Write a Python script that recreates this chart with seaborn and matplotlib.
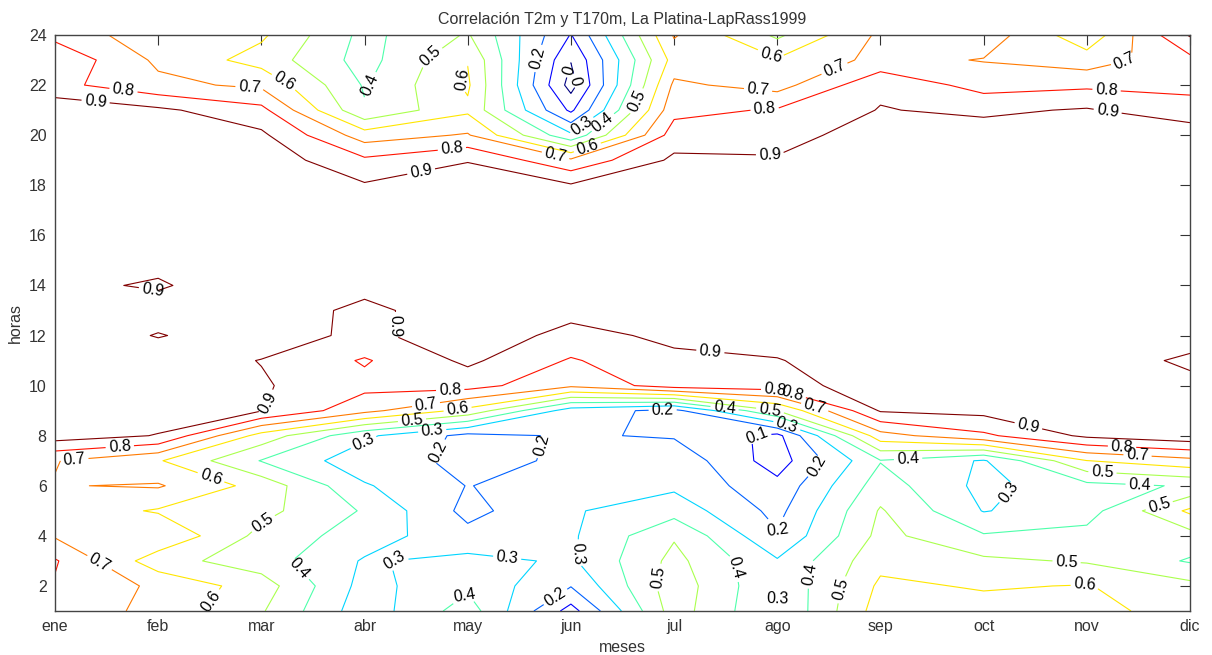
import numpy as np
import pandas as pd
import matplotlib
matplotlib.use("Agg")
import matplotlib.pyplot as plt
import seaborn as sns
from matplotlib.colors import Normalize

# ---- data ----
meses = ["ene", "feb", "mar", "abr", "may", "jun", "jul", "ago", "sep", "oct", "nov", "dic"]
horas = list(range(1, 25))

# correlation per month, hours 1..24
ene = [0.76, 0.79, 0.81, 0.69, 0.66, 0.695, 0.705, 0.95, 0.96, 0.96, 0.96, 0.96,
       0.95, 0.92, 0.94, 0.96, 0.96, 0.96, 0.96, 0.96, 0.97, 0.83, 0.88, 0.77]
feb = [0.673, 0.68, 0.54, 0.69, 0.59, 0.71, 0.61, 0.895, 0.95, 0.95, 0.95, 0.895,
       0.94, 0.89, 0.925, 0.95, 0.95, 0.95, 0.95, 0.95, 0.92, 0.725, 0.68, 0.635]
mar = [0.51, 0.55, 0.447, 0.47, 0.53, 0.563, 0.395, 0.56, 0.905, 0.91, 0.897, 0.95,
       0.97, 0.96, 0.95, 0.95, 0.95, 0.95, 0.96, 0.92, 0.83, 0.68, 0.56, 0.617]
abr = [0.24, 0.263, 0.29, 0.35, 0.39, 0.31, 0.24, 0.32, 0.73, 0.83, 0.79, 0.876,
       0.87, 0.937, 0.95, 0.95, 0.95, 0.91, 0.82, 0.65, 0.41, 0.39, 0.36, 0.37]
may = [0.45, 0.38, 0.33, 0.23, 0.17, 0.197, 0.18, 0.17, 0.57, 0.84, 0.92, 0.96,
       0.97, 0.96, 0.96, 0.96, 0.96, 0.95, 0.895, 0.71, 0.58, 0.615, 0.595, 0.51]
jun = [0.06, 0.205, 0.285, 0.285, 0.29, 0.25, 0.21, 0.21, 0.25, 0.72, 0.79, 0.87,
       0.93, 0.96, 0.96, 0.96, 0.96, 0.91, 0.72, 0.32, 0.08, -0.04, 0.005, 0.095]
jul = [0.55, 0.56, 0.53, 0.49, 0.36, 0.28, 0.27, 0.19, 0.17, 0.85, 0.88, 0.92,
       0.95, 0.96, 0.96, 0.96, 0.96, 0.93, 0.92, 0.85, 0.77, 0.72, 0.64, 0.71]
ago = [0.295, 0.305, 0.31, 0.21, 0.17, 0.13, 0.05, 0.07, 0.50, 0.86, 0.895, 0.94,
       0.96, 0.96, 0.96, 0.96, 0.96, 0.95, 0.91, 0.86, 0.81, 0.66, 0.61, 0.48]
sep = [0.65, 0.62, 0.57, 0.53, 0.51, 0.45, 0.395, 0.66, 0.91, 0.95, 0.96, 0.96,
       0.96, 0.96, 0.96, 0.96, 0.96, 0.96, 0.96, 0.95, 0.905, 0.88, 0.73, 0.72]
octu = [0.64, 0.59, 0.52, 0.41, 0.295, 0.27, 0.29, 0.78, 0.93, 0.96, 0.96, 0.96,
        0.96, 0.96, 0.96, 0.96, 0.96, 0.96, 0.96, 0.95, 0.88, 0.76, 0.695, 0.76]
nov = [0.63, 0.605, 0.49, 0.43, 0.36, 0.37, 0.598, 0.92, 0.96, 0.96, 0.96, 0.96,
       0.96, 0.96, 0.96, 0.96, 0.96, 0.96, 0.96, 0.96, 0.91, 0.78, 0.647, 0.53]
dic = [0.56, 0.53, 0.39, 0.46, 0.62, 0.41, 0.67, 0.97, 0.97, 0.93, 0.88, 0.95,
       0.96, 0.96, 0.96, 0.96, 0.96, 0.96, 0.96, 0.97, 0.83, 0.78, 0.77, 0.91]

niveles = [0.0, 0.1, 0.2, 0.3, 0.4, 0.5, 0.6, 0.7, 0.8, 0.9]
titulo = "Correlación T2m y T170m, La Platina-LapRass1999"

# approximate places of the inline contour labels (month index, hour)
etiquetas_x = [1.39, 1.66, 2.89, 3.21, 4.10, 4.65, 4.90, 4.56, 4.85, 5.73, 5.97, 6.07,
               6.12, 6.33, 6.67, 6.16, 5.84, 7.93, 7.88, 7.83, 7.96, 8.56, 11.37,
               11.19, 11.20, 1.94, 4.20, 7.35, 3.13, 1.63, 1.19, 2.50, 1.39, 2.50,
               3.03, 3.40, 3.97, 4.29, 4.83, 4.59, 4.90, 4.46, 4.66, 4.65, 5.78,
               5.38, 4.99, 5.87, 6.06, 6.89, 7.49, 6.89, 7.57, 8.00, 8.07, 7.81,
               7.98, 8.14, 7.93, 8.10, 8.36, 8.33, 8.39, 8.64, 9.27, 10.33, 10.42,
               11.34, 11.49, 11.15, 11.51, 11.70, 10.80, 10.98]
etiquetas_y = [21.2, 21.68, 22.2, 22.08, 21.9, 23.1, 22.3, 18.3, 19.3, 23.0, 22.6, 22.2,
               20.3, 20.4, 21.3, 19.5, 19.0, 19.2, 20.9, 22.5, 23.4, 22.6, 22.9,
               21.7, 20.9, 13.6, 12.4, 11.3, 9.2, 7.43, 6.95, 6.2, 2.64, 1.44,
               4.4, 2.8, 7.9, 3.0, 9.85, 9.4, 9.1, 8.6, 8.0, 7.5, 7.55,
               3.04, 1.52, 1.44, 3.3, 8.94, 9.14, 2.3, 2.7, 2.0, 3.95, 7.8,
               9.85, 9.6, 9.0, 8.5, 9.1, 7.0, 2.4, 1.84, 6.9, 5.43, 8.15,
               7.45, 7.1, 6.43, 5.83, 5.23, 2.72, 2.04]

# ---- build table ----
df = pd.DataFrame({"ene": ene, "feb": feb, "mar": mar, "abr": abr, "may": may,
                   "jun": jun, "jul": jul, "ago": ago, "sep": sep, "oct": octu,
                   "nov": nov, "dic": dic}, index=horas)[meses]

sns.set_style("white")
plt.rcParams["font.family"] = ["Liberation Sans", "DejaVu Sans"]

fig = plt.figure(figsize=(12.12, 6.55), dpi=100)
ax = fig.add_axes([55 / 1212, 1 - 611 / 655, (1190 - 55) / 1212, (611 - 35) / 655])

xm = np.arange(1, len(meses) + 1)
cs = ax.contour(xm, df.index.values, df.values, levels=niveles, cmap="jet",
                norm=Normalize(0.0, 0.9), linewidths=0.8)
ax.set_xlim(1, 12)
ax.set_ylim(1, 24)


def fmt(v):
    return "0" if abs(v) < 1e-9 else f"{v:.1f}"


ax.clabel(cs, inline=True, fontsize=11.5, fmt=fmt, inline_spacing=3,
          colors="black", manual=list(zip(etiquetas_x, etiquetas_y)))

ax.set_xticks(xm)
ax.set_xticklabels(meses)
ax.set_yticks(range(2, 25, 2))
ax.tick_params(direction="in", top=True, right=True, length=7, width=0.8,
               labelsize=11.5, colors="#333333", pad=6)
for s in ax.spines.values():
    s.set_color("#444444")
    s.set_linewidth(1.0)
ax.set_title(titulo, fontsize=11.5, color="#333333", pad=8)
ax.set_xlabel("meses", fontsize=11.5, color="#333333", labelpad=4)
ax.set_ylabel("horas", fontsize=11.5, color="#333333", labelpad=4)

fig.savefig("out.png", dpi=100)
